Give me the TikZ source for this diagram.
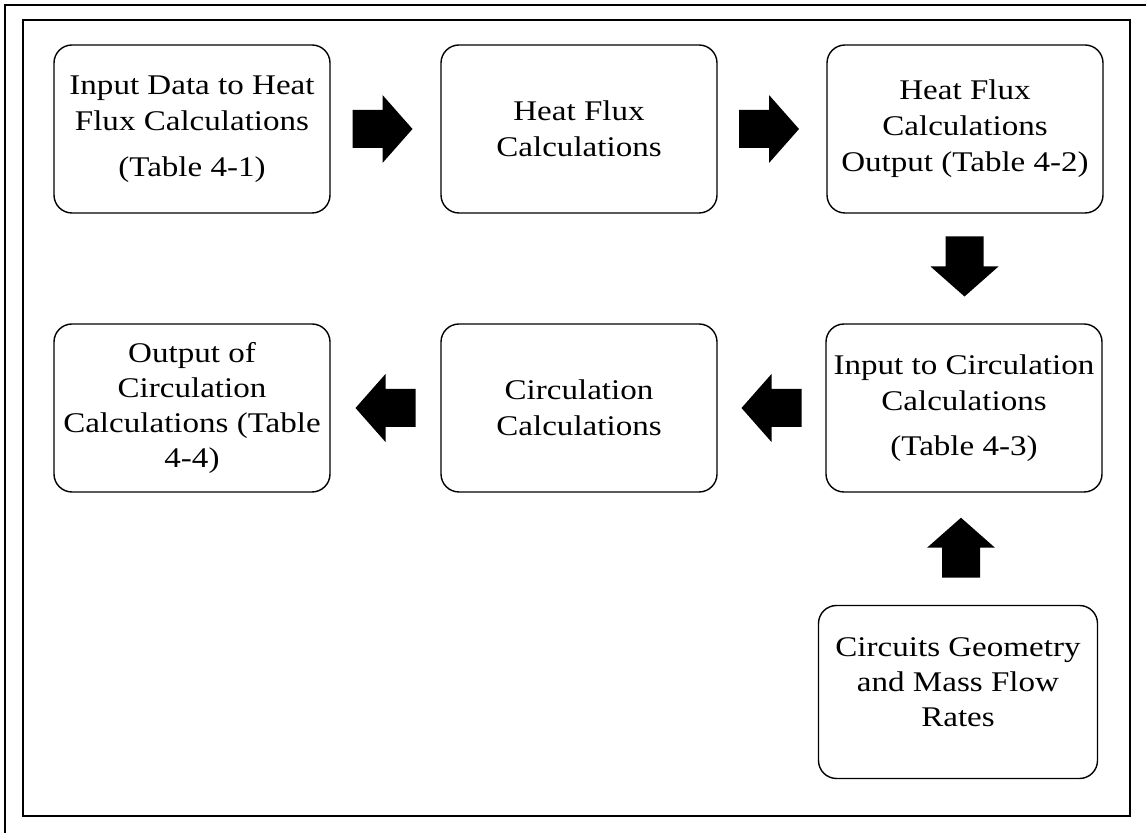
\documentclass[tikz,border=0pt]{standalone}
\usepackage{fontspec}
\setmainfont{Liberation Serif}[FakeStretch=1.16]
\usetikzlibrary{calc}
\tikzset{
  box/.style={draw, line width=1.4pt, rounded corners=18pt, minimum width=276pt, minimum height=168pt,
    align=center, inner sep=0pt, font=\fontsize{28.5}{36}\selectfont},
  boxtext/.style={align=center, inner sep=0pt, font=\fontsize{28.5}{35}\selectfont},
  blockarrow/.pic={\fill[black] (-30,-19) -- (0,-19) -- (0,-34) -- (30,0) -- (0,34) -- (0,19) -- (-30,19) -- cycle;},
  frameline/.style={line width=1.3pt},
  innerframe/.style={line width=1.8pt}
}
\begin{document}
\begin{tikzpicture}[x=1pt,y=1pt]
\useasboundingbox (0,0) rectangle (1146,833);
\fill[white] (0,0) rectangle (1146,833);
% frames
\draw[frameline] (5,0) -- (5,828) -- (1146,828);
\draw[innerframe] (23,17) rectangle (1130,813);
% boxes
\node[box] (n1) at (192,704) {Input Data to Heat\\Flux Calculations\\[10pt](Table 4-1)};
\node[box] (n2) at (579,704) {Heat Flux\\Calculations};
\node[box] (n3) at (965,704) {Heat Flux\\Calculations\\Output (Table 4-2)};
\node[box] (n4) at (964,425) {Input to Circulation\\Calculations\\[9pt](Table 4-3)};
\node[box] (n5) at (579,425) {Circulation\\Calculations};
\node[box, font=\fontsize{28.5}{35}\selectfont] (n6) at (192,425) {Output of\\Circulation\\Calculations (Table\\4-4)};
\node[box, minimum width=279pt, minimum height=173pt] (n7) at (958,141) {};
\node[boxtext] (t7) at ([yshift=10pt]n7.center) {Circuits Geometry\\and Mass Flow\\Rates};
% block arrows
\pic at ($(n1.east)!0.5!(n2.west)+(-3,0)$) {blockarrow};
\pic at ($(n2.east)!0.5!(n3.west)+(-3,0)$) {blockarrow};
\pic[rotate=-90] at ($(n3.south)!0.5!(n4.north)+(0,2)$) {blockarrow};
\pic[rotate=180] at ($(n4.west)!0.5!(n5.east)$) {blockarrow};
\pic[rotate=180] at ($(n5.west)!0.5!(n6.east)$) {blockarrow};
\pic[rotate=90] at ($(n7.north)!0.5!(n4.south)+(0,1)$) {blockarrow};
\end{tikzpicture}
\end{document}
